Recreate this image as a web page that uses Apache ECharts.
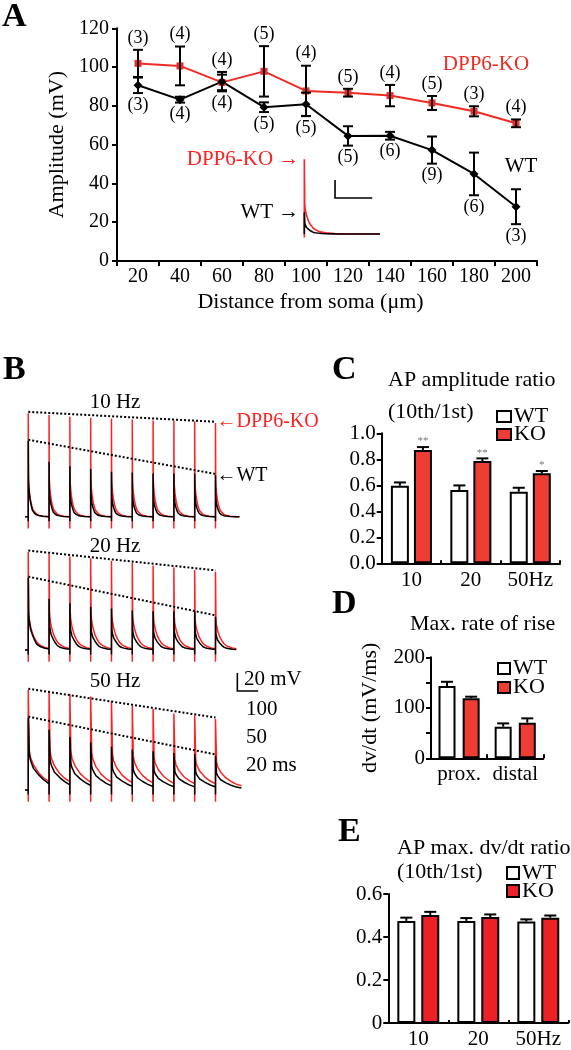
<!DOCTYPE html>
<html><head><meta charset="utf-8">
<script src="https://cdn.jsdelivr.net/npm/echarts@6/dist/echarts.min.js"></script>
<style>html,body{margin:0;padding:0;background:#fff}#c{width:571px;height:1050px}</style>
</head><body><div id="c"></div>
<script>
// ---------- Panel A data ----------
const distances = ['20','40','60','80','100','120','140','160','180','200'];
const koAmp = [101.9,100.6,92.1,97.8,87.7,86.8,85.3,81.5,77.2,71.0];
const koErr = [7,10,4,13,13,2,5.5,3.6,2.6,2];
const wtAmp = [90.6,83.2,92.5,79.3,80.8,64.5,64.6,57.2,44.9,28.0];
const wtErr = [4,1.5,5,2.5,6,5,2,7,11,9];
const koN = ['(3)','(4)','(4)','(5)','(4)','(5)','(4)','(5)','(3)','(4)'];
const wtN = ['(3)','(4)','(4)','(5)','(5)','(5)','(6)','(9)','(6)','(3)'];
const yTicksA = [0,120,20];
// inset (single AP at distal site, mV)
const insetKOPeak = 83;
const insetWTPeak = 24;
const insetDur = 175;
const insetBar = [71,40,20,86]; // x0(ms), y0(mV), height mV, width ms

// ---------- Panel B data (peak amplitude of each AP, mV) ----------
const decayT = [0,1,2,5,10,15,20,25,30,40,50,70,100,115];
const wtFrac = [1,0.5,0.42,0.30,0.21,0.14,0.085,0.06,0.045,0.025,0.015,0.005,0,0];
const koFrac = [1,0.4,0.33,0.25,0.17,0.12,0.083,0.06,0.045,0.025,0.015,0.005,0,0];
const b10KO = [115,113,111,110,109,108,107,107,106,104];
const b10WT = [84,61,56,53,50,49,48,48,48,46];
const b20KO = [109,107,104,102,99,97,94,92,89,87];
const b20WT = [80,57,52,48,46,44,43,43,43,37];
const b50KO = [111,109,107,104,99,94,90,85,83,79];
const b50WT = [80,67,59,53,48,45,43,41,40,38];
const periods = [100,50,20];
const freqLabels = ['10 Hz','20 Hz','50 Hz'];
const scaleBar = [201,110,20,20]; // x0 ms, y0 mV, 20 mV, 20 ms (50 Hz panel)

// ---------- Panel C ----------
const cCats = ['10','20','50Hz'];
const cWT = [0.597,0.564,0.551];
const cWTerr = [0.025,0.035,0.03];
const cKO = [0.872,0.787,0.692];
const cKOerr = [0.022,0.02,0.018];
const cStars = ['**','**','*'];
// ---------- Panel D ----------
const dCats = ['prox.','distal'];
const dWT = [143,62.6];
const dWTerr = [8.5,6.5];
const dKO = [119,70.6];
const dKOerr = [3,8.5];
// ---------- Panel E ----------
const eCats = ['10','20','50Hz'];
const eWT = [0.475,0.475,0.472];
const eWTerr = [0.015,0.013,0.01];
const eKO = [0.502,0.493,0.49];
const eKOerr = [0.015,0.012,0.01];

const SERIF = "'Liberation Serif','Times New Roman',serif";
const RED = '#ef2b23';
const BARRED = '#ee3d33';
const EBARRED = '#ec2127';
const TRACERED = '#ff2222';

const chart = echarts.init(document.getElementById('c'), null, {renderer:'canvas'});

function axisStyle(extra){
  return Object.assign({
    axisLine:{show:true,lineStyle:{color:'#000',width:2}},
    axisTick:{show:true,length:5,lineStyle:{color:'#000',width:2}},
    axisLabel:{color:'#000',fontFamily:SERIF,fontSize:21},
    splitLine:{show:false}
  }, extra);
}
function hiddenAxis(extra){
  return Object.assign({type:'value',show:false,splitLine:{show:false}}, extra);
}

// build AP train polyline from peaks + decay samples
function buildTrace(peaks, T, frac, artifact){
  const pts = [[-0.15*T, 0]];
  let prev = 0;
  for (let i=0;i<peaks.length;i++){
    const t0 = i*T;
    const limit = i < peaks.length-1 ? T : 1.25*T;
    pts.push([t0, prev]);
    pts.push([t0, artifact]);
    pts.push([t0, peaks[i]]);
    for (let k=1;k<decayT.length;k++){
      if (decayT[k] > limit) break;
      const v = peaks[i]*frac[k];
      pts.push([t0+decayT[k], v]);
      prev = v;
    }
  }
  return pts;
}

function errBars(xi, vals, errs, offset, capW, both){
  return {
    type:'custom', xAxisIndex:xi, yAxisIndex:xi, silent:true, z:6,
    data: vals.map((v,i)=>[i, both ? v-errs[i] : v, v+errs[i]]),
    renderItem(params, api){
      const i = api.value(0);
      const p0 = api.coord([i, api.value(1)]);
      const p1 = api.coord([i, api.value(2)]);
      const x = p0[0] + offset;
      const st = {stroke:'#000', lineWidth:2};
      const ch = [
        {type:'line', shape:{x1:x,y1:p0[1],x2:x,y2:p1[1]}, style:st},
        {type:'line', shape:{x1:x-capW/2,y1:p1[1],x2:x+capW/2,y2:p1[1]}, style:st}
      ];
      if (both) ch.push({type:'line', shape:{x1:x-capW/2,y1:p0[1],x2:x+capW/2,y2:p0[1]}, style:st});
      return {type:'group', children:ch};
    }
  };
}
function scaleBarSeries(gi, sb){
  return {type:'custom', xAxisIndex:gi, yAxisIndex:gi, silent:true, clip:false, z:5,
    data:[sb],
    renderItem(params, api){
      const o = api.coord([api.value(0), api.value(1)]);
      const t = api.coord([api.value(0), api.value(1)+api.value(2)]);
      const r = api.coord([api.value(0)+api.value(3), api.value(1)]);
      return {type:'polyline', shape:{points:[t,o,r]}, style:{stroke:'#000', lineWidth:1.6, fill:null}};
    }};
}
function labelItem(extra){
  return Object.assign({type:'scatter', symbolSize:0, silent:true, itemStyle:{opacity:1},
    emphasis:{disabled:true}}, extra);
}

const grids = [
  {left:117, top:28.3, width:420, height:232.7},          // 0 A
  {left:381.7, top:433.3, width:178.3, height:130},       // 1 C
  {left:431, top:657.3, width:112.3, height:101},         // 2 D
  {left:388.3, top:894, width:180, height:132.7},         // 3 E
  {left:24.1, top:404.2, width:217.4, height:126},        // 4 B 10Hz
  {left:24.1, top:537.5, width:217.4, height:126},        // 5 B 20Hz
  {left:24.1, top:677.5, width:217.4, height:126},        // 6 B 50Hz
  {left:300, top:153, width:80, height:85.5}              // 7 A inset
];

const xAxes = [
  axisStyle({type:'category', gridIndex:0, data:distances,
    axisLabel:{color:'#000',fontFamily:SERIF,fontSize:20,margin:6,interval:0},
    name:'Distance from soma (\u03bcm)', nameLocation:'middle', nameGap:30,
    nameTextStyle:{color:'#000',fontFamily:SERIF,fontSize:22,padding:[0,33,0,0]}}),
  axisStyle({type:'category', gridIndex:1, data:cCats, axisTick:{show:true,inside:true,length:3,lineStyle:{color:'#000',width:2}},
    axisLabel:{color:'#000',fontFamily:SERIF,fontSize:21,margin:7,interval:0}}),
  axisStyle({type:'category', gridIndex:2, data:dCats, axisTick:{show:true,inside:true,length:4,lineStyle:{color:'#000',width:2}},
    axisLabel:{color:'#000',fontFamily:SERIF,fontSize:21,margin:6,interval:0}}),
  axisStyle({type:'category', gridIndex:3, data:eCats, axisTick:{show:true,inside:true,length:3,lineStyle:{color:'#000',width:2}},
    axisLabel:{color:'#000',fontFamily:SERIF,fontSize:21,margin:6,interval:0}}),
  hiddenAxis({gridIndex:4, min:-0.2*periods[0], max:10.25*periods[0]}),
  hiddenAxis({gridIndex:5, min:-0.2*periods[1], max:10.25*periods[1]}),
  hiddenAxis({gridIndex:6, min:-0.2*periods[2], max:10.25*periods[2]}),
  hiddenAxis({gridIndex:7, min:-10, max:175})
];
const yAxes = [
  axisStyle({type:'value', gridIndex:0, min:yTicksA[0], max:yTicksA[1], interval:yTicksA[2],
    axisLabel:{color:'#000',fontFamily:SERIF,fontSize:20,margin:8},
    name:'Amplitude (mV)', nameLocation:'middle', nameGap:48,
    nameTextStyle:{color:'#000',fontFamily:SERIF,fontSize:22}}),
  axisStyle({type:'value', gridIndex:1, min:0, max:1, interval:0.2,
    axisLabel:{color:'#000',fontFamily:SERIF,fontSize:21,margin:6,formatter:v=>v.toFixed(1)}}),
  axisStyle({type:'value', gridIndex:2, min:0, max:200, interval:50,
    axisLabel:{color:'#000',fontFamily:SERIF,fontSize:21,margin:6,formatter:v=>(v%100===0?String(v):'')},
    name:'dv/dt (mV/ms)', nameLocation:'middle', nameGap:50,
    nameTextStyle:{color:'#000',fontFamily:SERIF,fontSize:22}}),
  axisStyle({type:'value', gridIndex:3, min:0, max:0.6, interval:0.2,
    axisLabel:{color:'#000',fontFamily:SERIF,fontSize:21,margin:6,formatter:v=>(v===0?'0':v.toFixed(1))}}),
  hiddenAxis({gridIndex:4, min:-15, max:125}),
  hiddenAxis({gridIndex:5, min:-15, max:125}),
  hiddenAxis({gridIndex:6, min:-15, max:125}),
  hiddenAxis({gridIndex:7, min:-5, max:90})
];

const series = [];
// ---- Panel A ----
series.push({type:'line', name:'DPP6-KO', xAxisIndex:0, yAxisIndex:0, data:koAmp, z:3,
  symbol:'rect', symbolSize:7, itemStyle:{color:RED}, lineStyle:{color:RED,width:2}});
series.push({type:'line', name:'WT', xAxisIndex:0, yAxisIndex:0, data:wtAmp, z:3,
  symbol:'diamond', symbolSize:9, itemStyle:{color:'#000'}, lineStyle:{color:'#000',width:2}});
series.push(errBars(0, koAmp, koErr, 0, 10, true));
series.push(errBars(0, wtAmp, wtErr, 0, 10, true));
const nTop = koAmp.map((v,i)=>Math.max(v+koErr[i], wtAmp[i]+wtErr[i]));
const nBot = koAmp.map((v,i)=>Math.min(v-koErr[i], wtAmp[i]-wtErr[i]));
series.push(labelItem({xAxisIndex:0, yAxisIndex:0,
  data:nTop.map((v,i)=>[i,v]),
  label:{show:true, position:'top', distance:3, color:'#000', fontFamily:SERIF, fontSize:18,
    formatter:p=>koN[p.dataIndex]}}));
series.push(labelItem({xAxisIndex:0, yAxisIndex:0,
  data:nBot.map((v,i)=>[i,v]),
  label:{show:true, position:'bottom', distance:3, color:'#000', fontFamily:SERIF, fontSize:18,
    formatter:p=>wtN[p.dataIndex]}}));
// inset
function insetTrace(peak, frac, art){
  const pts = [[0,0],[0,art],[0,peak]];
  for (let k=1;k<decayT.length;k++) pts.push([decayT[k], peak*frac[k]]);
  pts.push([insetDur,0]);
  return pts;
}
series.push({type:'line', xAxisIndex:7, yAxisIndex:7, data:insetTrace(insetKOPeak, koFrac, -4), symbol:'none',
  silent:true, lineStyle:{color:TRACERED,width:1.6}, z:3});
series.push({type:'line', xAxisIndex:7, yAxisIndex:7, data:insetTrace(insetWTPeak, wtFrac, -2), symbol:'none',
  silent:true, lineStyle:{color:'#000',width:1.6}, z:4});
series.push(scaleBarSeries(7, insetBar));
series.push(labelItem({xAxisIndex:7, yAxisIndex:7,
  data:[{value:[0,insetKOPeak], label:{color:TRACERED}}, {value:[0,insetWTPeak], label:{color:'#000'}}],
  label:{show:true, position:'left', distance:5, fontFamily:SERIF, fontSize:21,
    formatter:p=>p.dataIndex===0?'DPP6-KO \u2192':'WT \u2192'}}));

// ---- Panel B ----
const bSets = [[b10KO,b10WT],[b20KO,b20WT],[b50KO,b50WT]];
bSets.forEach((set,j)=>{
  const gi = 4+j, T = periods[j];
  series.push({type:'line', xAxisIndex:gi, yAxisIndex:gi, data:buildTrace(set[0],T,koFrac,-13), symbol:'none',
    silent:true, lineStyle:{color:TRACERED,width:1.5}, z:2});
  series.push({type:'line', xAxisIndex:gi, yAxisIndex:gi, data:buildTrace(set[1],T,wtFrac,-5), symbol:'none',
    silent:true, lineStyle:{color:'#000',width:1.5}, z:3});
  set.forEach(pk=>{
    series.push({type:'line', xAxisIndex:gi, yAxisIndex:gi, symbol:'none', silent:true, z:4,
      data:[[0,pk[0]+1.5],[(pk.length-1)*T,pk[pk.length-1]+1.5]],
      lineStyle:{color:'#000',width:2,type:[2,2]}});
  });
  if (j===0){
    series.push(labelItem({xAxisIndex:gi, yAxisIndex:gi,
      data:[{value:[(set[0].length-1)*T,set[0][set[0].length-1]+1.5], label:{color:TRACERED}},
            {value:[(set[1].length-1)*T,set[1][set[1].length-1]], label:{color:'#000'}}],
      label:{show:true, position:'right', distance:1, fontFamily:SERIF, fontSize:20,
        formatter:p=>p.dataIndex===0?'\u2190DPP6-KO':'\u2190WT'}}));
  }
  if (j===2) series.push(scaleBarSeries(gi, scaleBar));
});

// ---- Bars C, D, E ----
function barPair(xi, wt, ko, bw, gapRatio, red){
  series.push({type:'bar', name:'WT', xAxisIndex:xi, yAxisIndex:xi, data:wt, barWidth:bw, barGap:(gapRatio*100)+'%',
    itemStyle:{color:'#fff', borderColor:'#000', borderWidth:2}, z:2});
  series.push({type:'bar', name:'KO', xAxisIndex:xi, yAxisIndex:xi, data:ko, barWidth:bw, barGap:(gapRatio*100)+'%',
    itemStyle:{color:red, borderColor:'#000', borderWidth:2}, z:2});
}
const cBW=18, cGap=0.28, dBW=17, dGap=0.42, eBW=18, eGap=0.33;
barPair(1, cWT, cKO, cBW, cGap, BARRED);
const cOff = (cBW + cBW*cGap)/2;
series.push(errBars(1, cWT, cWTerr, -cOff, 12, false));
series.push(errBars(1, cKO, cKOerr, cOff, 12, false));
series.push(labelItem({xAxisIndex:1, yAxisIndex:1,
  data:cKO.map((v,i)=>[i, v+cKOerr[i]]),
  label:{show:true, position:'top', distance:0, offset:[cOff,0], color:'#777', fontSize:11, fontFamily:SERIF,
    formatter:p=>cStars[p.dataIndex]}}));
barPair(2, dWT, dKO, dBW, dGap, BARRED);
const dOff = (dBW + dBW*dGap)/2;
series.push(errBars(2, dWT, dWTerr, -dOff, 12, false));
series.push(errBars(2, dKO, dKOerr, dOff, 12, false));
barPair(3, eWT, eKO, eBW, eGap, EBARRED);
const eOff = (eBW + eBW*eGap)/2;
series.push(errBars(3, eWT, eWTerr, -eOff, 12, false));
series.push(errBars(3, eKO, eKOerr, eOff, 12, false));

// ---- graphics: panel letters, titles, legends, texts ----
function txt(x,y,text,size,opt){
  opt = opt||{};
  return {type:'text', silent:true, style:{x:x, y:y, text:text,
    font:(opt.bold?'bold ':'')+size+'px '+SERIF, fill:opt.color||'#000',
    textAlign:opt.align||'left', textVerticalAlign:'middle', align:opt.align||'left', verticalAlign:'middle'}};
}
function box(x,y,w,h,fill){
  return {type:'rect', silent:true, shape:{x:x,y:y,width:w,height:h}, style:{fill:fill, stroke:'#000', lineWidth:2}};
}
const graphics = [
  txt(2,17,'A',34,{bold:true}),
  txt(3,370,'B',34,{bold:true}),
  txt(332,370,'C',34,{bold:true}),
  txt(332,604,'D',34,{bold:true}),
  txt(338,832,'E',34,{bold:true}),
  txt(486,64,'DPP6-KO',21,{color:RED,align:'center'}),
  txt(521,166,'WT',21,{align:'center'}),
  txt(115,402,freqLabels[0],21,{align:'center'}),
  txt(115,546,freqLabels[1],21,{align:'center'}),
  txt(115,681,freqLabels[2],21,{align:'center'}),
  txt(244,679,'20 mV',21),
  txt(246,709,'100',21),
  txt(246,737,'50',21),
  txt(246,765,'20 ms',21),
  txt(388,380,'AP amplitude ratio',22),
  txt(388,412,'(10th/1st)',22),
  box(497,411,14,11,'#fff'), txt(514,416.5,'WT',22),
  box(497,429,14,11,BARRED), txt(514,434.5,'KO',22),
  txt(410,624,'Max. rate of rise',22),
  box(498,663,12,11,'#fff'), txt(513,668.5,'WT',22),
  box(498,682,12,11,BARRED), txt(513,687.5,'KO',22),
  txt(397,848,'AP max. dv/dt ratio',22),
  txt(397,872,'(10th/1st)',22),
  box(507,867,12,12,'#fff'), txt(522,873,'WT',22),
  box(507,885,12,12,EBARRED), txt(522,891,'KO',22)
];

chart.setOption({
  animation:false,
  backgroundColor:'#fff',
  textStyle:{fontFamily:SERIF},
  grid:grids,
  xAxis:xAxes,
  yAxis:yAxes,
  series:series,
  graphic:{elements:graphics}
});
</script></body></html>
